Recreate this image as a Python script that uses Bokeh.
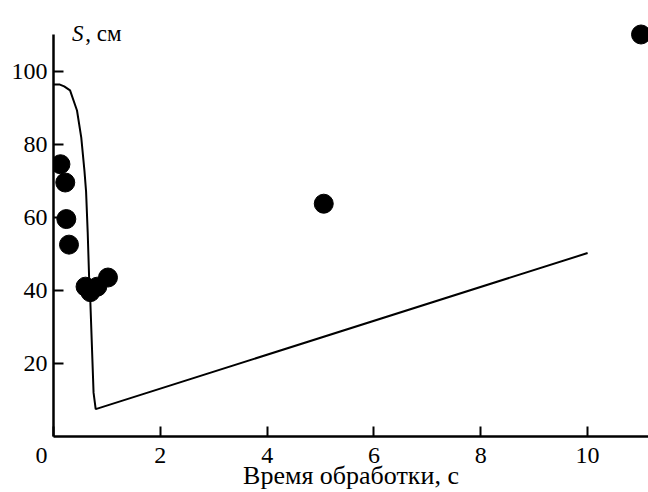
from bokeh.plotting import figure
from bokeh.models import Range1d, Label, FixedTicker
from bokeh.embed import file_html
from bokeh.resources import INLINE

# measured points: processing time (s) vs S (cm)
pts_t = [0.13, 0.22, 0.24, 0.29, 0.60, 0.69, 0.82, 1.02, 5.06, 11.0]
pts_s = [74.5, 69.5, 59.5, 52.5, 41.0, 39.5, 41.0, 43.5, 63.7, 110.0]

# model curve
curve_t = [0.0, 0.12, 0.20, 0.31, 0.44, 0.52, 0.58, 0.61, 0.64, 0.67, 0.69, 0.75, 0.79, 10.0]
curve_s = [96.3, 96.3, 95.8, 94.7, 89.2, 81.8, 72.6, 67.0, 56.0, 42.0, 36.8, 12.0, 7.5, 50.2]

x_ticks = [0, 2, 4, 6, 8, 10]
y_ticks = [20, 40, 60, 80, 100]
y_axis_top = 110

FONT = "Liberation Serif"

p = figure(width=648, height=492, output_backend="svg", toolbar_location=None,
           x_range=Range1d(0, 11.14), y_range=Range1d(0, 119.3),
           min_border_left=53, min_border_right=0, min_border_top=0, min_border_bottom=56)
p.outline_line_color = None
p.grid.visible = False
p.background_fill_color = "white"
p.border_fill_color = "white"

p.line(curve_t, curve_s, line_color="black", line_width=2)
p.scatter(pts_t, pts_s, size=19, fill_color="black", line_color="black")

for ax in (p.xaxis[0], p.yaxis[0]):
    ax.axis_line_width = 2.5
    ax.axis_line_color = "black"
    ax.major_tick_in = 10
    ax.major_tick_out = 0
    ax.major_tick_line_width = 2
    ax.major_tick_line_color = "black"
    ax.minor_tick_line_color = None
    ax.major_label_text_font = FONT
    ax.major_label_text_font_size = "24px"
    ax.major_label_text_color = "black"
    ax.major_label_standoff = 6

p.xaxis[0].ticker = FixedTicker(ticks=x_ticks)
p.xaxis[0].major_label_overrides = {0: "0\u00a0\u00a0\u00a0\u00a0"}
p.xaxis[0].major_label_standoff = 5
p.xaxis[0].axis_label = "Время обработки, с"
p.xaxis[0].axis_label_text_font = FONT
p.xaxis[0].axis_label_text_font_style = "normal"
p.xaxis[0].axis_label_text_font_size = "26px"
p.xaxis[0].axis_label_text_color = "black"
p.xaxis[0].axis_label_standoff = -10

p.yaxis[0].ticker = FixedTicker(ticks=y_ticks)
p.yaxis[0].bounds = (0, y_axis_top)

# y axis title at top of the spine
p.add_layout(Label(x=0, y=y_axis_top, x_offset=18.4, y_offset=1.2, text="S",
                   text_font=FONT, text_font_style="italic", text_font_size="23px",
                   text_align="left", text_baseline="alphabetic", text_color="black"))
p.add_layout(Label(x=0, y=y_axis_top, x_offset=31.7, y_offset=1.2, text=", см",
                   text_font=FONT, text_font_size="23px",
                   text_align="left", text_baseline="alphabetic", text_color="black"))

open("out.html", "w").write(file_html(p, INLINE))
